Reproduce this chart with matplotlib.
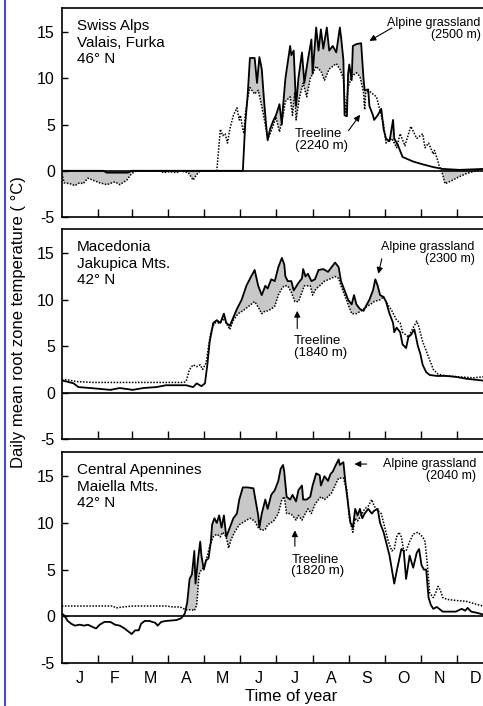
import numpy as np
import matplotlib
matplotlib.use('Agg')
import matplotlib.pyplot as plt
from matplotlib.lines import Line2D

plt.rcParams['font.family'] = ['Liberation Sans', 'DejaVu Sans']
plt.rcParams['axes.unicode_minus'] = False

month_starts = [0, 31, 59, 90, 120, 151, 181, 212, 243, 273, 304, 334, 365]
month_labels = ['J', 'F', 'M', 'A', 'M', 'J', 'J', 'A', 'S', 'O', 'N', 'D']

# [day of year, temperature]
alps_grass = np.array([
    [0, 0], [35, 0], [38, -0.2], [56, -0.2], [59, 0], [153, 0], [155, 5], [157, 8],
    [159, 12.2], [163, 12.2], [165, 9.5], [167, 12.3], [169, 11], [171, 7.5], [173, 4.5],
    [174, 3.3], [176, 4.5], [179, 5.5], [181, 6], [184, 7.2], [186, 5], [187, 7], [189, 10],
    [193, 13.5], [194, 12.5], [196, 13], [198, 7], [200, 10], [203, 12.8], [205, 9.5],
    [208, 12], [211, 14.2], [212, 10.5], [215, 15.5], [217, 13], [219, 15.3], [221, 13.2],
    [224, 15.5], [226, 13], [229, 13.5], [232, 12.8], [235, 15.5], [236, 14.5], [238, 12],
    [239, 6], [241, 5.9], [242, 10.5], [243, 11.5], [245, 9.8], [246, 13.5], [249, 13.7],
    [253, 13.8], [255, 10], [256, 8.7], [259, 8.8], [260, 7], [263, 6], [264, 5.5], [267, 6],
    [270, 6.7], [272, 4.5], [274, 3.5], [277, 3.2], [280, 5.5], [281, 3.5], [284, 2.8],
    [288, 1.5], [297, 1.0], [305, 0.7], [314, 0.4], [322, 0.2], [336, 0.1], [356, 0.2], [365, 0.2]])
alps_tree = np.array([
    [0, -0.3], [2, -1.3], [7, -1.4], [11, -1.6], [15, -1.3], [18, -1.4], [22, -0.8], [26, -1.0],
    [32, -1.3], [38, -1.5], [45, -1.2], [49, -1.5], [55, -1.0], [59, -0.3], [63, 0], [83, 0],
    [86, -0.2], [91, -0.1], [97, -0.2], [100, 0], [107, -0.2], [111, -1.0], [114, -0.4], [117, 0],
    [131, 0], [134, 4.5], [136, 3.8], [138, 4], [140, 3], [142, 4.5], [145, 6], [148, 6.8],
    [150, 5.5], [151, 6], [153, 4.5], [154, 4], [155, 6], [157, 7.8], [159, 9], [163, 8.3],
    [166, 8.7], [169, 7], [172, 5], [174, 3.5], [176, 4], [179, 5], [181, 5.8], [184, 4.2],
    [187, 6], [189, 7.5], [193, 8], [195, 6], [197, 8.5], [198, 5.5], [201, 8], [204, 9.5],
    [207, 8], [210, 10], [215, 11.3], [217, 11], [219, 10.8], [222, 9.8], [226, 11], [232, 11.6],
    [235, 11], [238, 10], [240, 6.2], [242, 9], [245, 10.2], [249, 10.6], [252, 10.2], [255, 8.5],
    [256, 6.6], [257, 8.5], [260, 8.6], [266, 8], [269, 6.5], [272, 5], [274, 3], [279, 3.5],
    [283, 2.5], [286, 4], [290, 2.7], [295, 4.8], [300, 3.5], [305, 4], [307, 2.5], [310, 3],
    [314, 1.8], [315, 2.2], [318, 1], [319, 0.5], [321, 0], [324, -1.4], [329, -1.1], [335, -0.7],
    [342, -0.3], [350, 0], [356, 0.2], [365, 0.2]])

mac_grass = np.array([
    [0, 1.3], [4, 1.2], [10, 1.0], [14, 0.6], [24, 0.5], [41, 0.3], [49, 0.5], [60, 0.3],
    [69, 0.5], [80, 0.6], [88, 0.8], [105, 0.8], [111, 0.6], [114, 1.0], [118, 0.7], [121, 1.0],
    [123, 3], [125, 5.5], [128, 7.5], [131, 7.8], [134, 7.5], [137, 8.5], [139, 7.5], [142, 7.2],
    [144, 7.8], [148, 9], [152, 10], [156, 11.5], [160, 12.5], [163, 13.2], [166, 11.5],
    [169, 10.5], [172, 11.5], [174, 11.2], [177, 12.2], [180, 12], [183, 13.5], [186, 14.5],
    [188, 13.8], [189, 12.5], [191, 12], [194, 12], [196, 11], [200, 11.8], [203, 12.3],
    [204, 13.3], [206, 12.5], [208, 12.8], [211, 12.0], [214, 12.2], [217, 13.2], [221, 13.3],
    [225, 13], [228, 13.5], [231, 14], [234, 13.5], [236, 12], [239, 11], [242, 10], [245, 9.5],
    [247, 10.5], [249, 9.5], [252, 9], [255, 8.8], [257, 9.3], [260, 10], [263, 11], [265, 12.2],
    [267, 11.5], [269, 10.5], [272, 10.3], [274, 9.8], [277, 8.5], [280, 7.5], [281, 6.5],
    [283, 7], [286, 6.5], [288, 5.2], [291, 4.8], [293, 6], [295, 6.2], [298, 6.8], [301, 5.0],
    [303, 4.2], [305, 3], [308, 2.2], [311, 1.9], [317, 1.8], [325, 1.8], [333, 1.7], [342, 1.5],
    [356, 1.3], [365, 1.3]])
mac_tree = np.array([
    [0, 1.4], [4, 1.4], [12, 1.2], [27, 1.1], [60, 1.1], [103, 1.1], [105, 1.2], [108, 2.5],
    [111, 3], [114, 2.8], [117, 3.0], [119, 2.5], [122, 3.2], [124, 5], [126, 6.5], [129, 7.5],
    [134, 7.5], [136, 8], [139, 7.5], [142, 6.8], [145, 7.8], [149, 8.5], [153, 8.8], [157, 9.2],
    [160, 9.5], [163, 9.8], [166, 9.2], [169, 8.5], [172, 8.8], [174, 8.8], [177, 9.0], [180, 9.3],
    [183, 10.5], [186, 11.2], [188, 11.5], [191, 11.5], [194, 10.8], [197, 9.8], [200, 9.8],
    [203, 10.8], [205, 11.5], [210, 11.5], [212, 10.5], [215, 11.2], [218, 11.5], [222, 12],
    [226, 12.2], [231, 12.5], [234, 12.3], [236, 11.5], [239, 10.5], [242, 9.5], [245, 8.5],
    [249, 8.5], [253, 8.8], [257, 9.2], [262, 9.6], [264, 9.8], [269, 10], [272, 10.3],
    [274, 9.8], [279, 8.8], [283, 7.8], [286, 7.5], [288, 6.5], [293, 6], [295, 6.5], [300, 7.7],
    [302, 7], [305, 5.5], [308, 4.5], [311, 3.5], [314, 2.5], [318, 2], [325, 1.8], [336, 1.7],
    [348, 1.6], [356, 1.7], [365, 1.7]])

apen_grass = np.array([
    [0, 0.3], [2, 0.1], [5, -0.5], [8, -0.8], [11, -1.0], [15, -0.9], [19, -1.0], [22, -0.9],
    [27, -1.2], [29, -1.3], [32, -0.9], [36, -0.6], [41, -0.6], [45, -0.9], [49, -1.0],
    [53, -1.3], [56, -1.6], [59, -1.9], [62, -1.5], [65, -1.5], [67, -0.8], [70, -0.5],
    [74, -0.5], [79, -0.7], [81, -1.0], [84, -0.6], [88, -0.5], [97, -0.4], [101, -0.2],
    [104, 0.3], [106, 1.5], [108, 4], [110, 4.5], [112, 7], [113, 3.5], [115, 6], [117, 8],
    [118, 6.5], [120, 5], [122, 6], [124, 6.2], [126, 8], [127, 9.8], [129, 10.5], [131, 10],
    [133, 10.8], [135, 9.5], [137, 10.8], [139, 8.5], [142, 9.5], [145, 10.5], [148, 11],
    [150, 12.5], [153, 13.8], [157, 13.8], [162, 13.7], [165, 11.5], [166, 10.8], [167, 9.5],
    [169, 11], [172, 12.5], [174, 11.5], [177, 13], [180, 13.5], [183, 14.5], [185, 15.8],
    [187, 16.2], [188, 15.5], [190, 12.8], [193, 12.5], [195, 13], [198, 12.3], [200, 13.5],
    [203, 14], [204, 12.5], [207, 12.5], [210, 12.8], [212, 14], [215, 15.3], [218, 15.1],
    [219, 14], [222, 15], [225, 14.5], [227, 15.2], [229, 15.5], [232, 16.3], [234, 16.8],
    [235, 16.2], [238, 16.5], [240, 14], [242, 12], [244, 10], [246, 9.5], [248, 11.5],
    [250, 10.8], [252, 11.5], [254, 10.5], [256, 11], [259, 11.5], [262, 11], [264, 11.3],
    [267, 11.5], [269, 10], [272, 9], [274, 8], [277, 6.5], [279, 5], [281, 3.5], [283, 4.8],
    [285, 6], [287, 7.2], [289, 7], [291, 4], [294, 6.5], [297, 5.2], [300, 6.8], [302, 7.2],
    [304, 5.5], [306, 5], [308, 5], [310, 2], [312, 1.2], [314, 0.8], [317, 1], [322, 0.5],
    [333, 0.5], [338, 0.8], [341, 0.6], [343, 0.9], [346, 0.5], [350, 0.4], [356, 0.2], [365, 0.2]])
apen_tree = np.array([
    [0, 1.1], [43, 1.1], [46, 0.9], [52, 1.0], [60, 1.1], [88, 1.1], [94, 1.0], [100, 1.0],
    [105, 0.7], [110, 0.7], [112, 0.6], [114, 1.2], [116, 4.5], [118, 5], [120, 5.2], [122, 6],
    [125, 7.5], [128, 8.5], [131, 8.8], [134, 8.5], [136, 9], [139, 8.5], [141, 7.3], [143, 8.2],
    [146, 9], [150, 9.8], [155, 10.2], [159, 10.5], [163, 10.2], [166, 9.5], [169, 9.2],
    [172, 9.3], [174, 9.8], [179, 10.2], [183, 11], [186, 12.5], [188, 12.8], [190, 11],
    [193, 11], [195, 10.8], [198, 10.3], [200, 10.8], [203, 10.3], [205, 10.8], [208, 11.5],
    [211, 11], [214, 12], [217, 12.5], [219, 12.8], [222, 12.5], [225, 12.8], [228, 13.2],
    [231, 14], [234, 14.8], [238, 14.8], [241, 13.5], [243, 10.5], [246, 9], [248, 10.5],
    [250, 10.2], [253, 10.8], [256, 11.5], [259, 11.8], [262, 12.5], [264, 11.8], [267, 11.3],
    [270, 11], [273, 9.5], [276, 8], [279, 7], [281, 7.2], [283, 8.5], [285, 9], [287, 8.5],
    [289, 7], [291, 7], [294, 8], [297, 8.8], [301, 9], [305, 8.5], [307, 8], [309, 5.5],
    [311, 2.5], [314, 2], [316, 2.5], [318, 3.2], [320, 2.8], [322, 2], [326, 1.8], [333, 1.7],
    [342, 1.6], [350, 1.3], [356, 1.1], [365, 1.1]])

sites = ['Swiss Alps\nValais, Furka\n46° N',
         'Macedonia\nJakupica Mts.\n42° N',
         'Central Apennines\nMaiella Mts.\n42° N']
grass_labels = ['Alpine grassland\n(2500 m)', 'Alpine grassland\n(2300 m)',
                'Alpine grassland\n(2040 m)']
tree_labels = ['Treeline\n(2240 m)', 'Treeline\n(1840 m)', 'Treeline\n(1820 m)']

# label/arrow placement: (text x, text y, arrow tail, arrow tip)
grass_pos = [(354, 16.6, (281, 15.6), (258, 13.9)),
             (349, 16.3, (271, 14.7), (267, 12.5)),
             (350, 16.9, (260, 16.3), (245, 16.3))]
tree_pos = [(197, 4.6, (241, 4.1), (253.5, 6.3)),
            (196, 6.2, (199, 6.6), (199, 9.1)),
            (194, 6.7, (197, 7.2), (197, 9.5))]

data = [(alps_grass, alps_tree), (mac_grass, mac_tree), (apen_grass, apen_tree)]
boxes = [(0.128, 0.6926, 0.894, 0.296),
         (0.128, 0.378, 0.894, 0.2975),
         (0.128, 0.0609, 0.894, 0.299)]

fig = plt.figure(figsize=(4.83, 7.06), dpi=100)

for i in range(3):
    ax = fig.add_axes(boxes[i])
    hi, lo = data[i]
    grid = np.union1d(hi[:, 0], lo[:, 0])
    s = np.interp(grid, hi[:, 0], hi[:, 1])
    d = np.interp(grid, lo[:, 0], lo[:, 1])
    ax.fill_between(grid, s, d, where=s > d, interpolate=True, color='#c8c8c8', lw=0)
    ax.plot(lo[:, 0], lo[:, 1], color='k', lw=1.1, linestyle=(0, (1, 1)))
    ax.plot(hi[:, 0], hi[:, 1], color='k', lw=1.3)
    ax.axhline(0, color='k', lw=1.2)

    ax.set_xlim(0, 365)
    ax.set_ylim(-5, 17.6)
    ax.set_yticks([-5, 0, 5, 10, 15])
    ax.tick_params(axis='y', direction='in', length=4, width=1, labelsize=11.5, pad=5)
    ax.set_xticks(month_starts[1:-1])
    ax.tick_params(axis='x', which='major', direction='in', length=6, width=1, labelbottom=False)
    if i == 2:
        mids = [(month_starts[k] + month_starts[k + 1]) / 2 for k in range(12)]
        ax.set_xticks(mids, minor=True)
        ax.set_xticklabels(month_labels, minor=True)
        ax.tick_params(axis='x', which='minor', length=0, labelsize=11.5, pad=6)
        ax.set_xlabel('Time of year', fontsize=12)
        ax.xaxis.set_label_coords(0.53, -0.125)
    for sp in ax.spines.values():
        sp.set_linewidth(1.2)

    ax.text(13, 16.4, sites[i], fontsize=11, va='top', ha='left', linespacing=1.22)
    gx, gy, gt, gh = grass_pos[i]
    ax.text(gx, gy, grass_labels[i], fontsize=9, va='top', ha='right', linespacing=0.95,
            multialignment='right')
    ax.annotate('', xy=gh, xytext=gt,
                arrowprops=dict(arrowstyle='-|>', color='k', lw=0.8, mutation_scale=9))
    tx, ty, tt, th = tree_pos[i]
    ax.text(tx, ty, tree_labels[i], fontsize=9.5, va='top', ha='left', linespacing=0.95)
    ax.annotate('', xy=th, xytext=tt,
                arrowprops=dict(arrowstyle='-|>', color='k', lw=0.8, mutation_scale=9))

fig.text(19 / 483, 1 - 322 / 706, 'Daily mean root zone temperature ( °C)',
         rotation=90, ha='center', va='center', fontsize=12)
fig.add_artist(Line2D([5 / 483, 5 / 483], [0, 1], color='#4a4ad0', lw=1.5))

fig.savefig('out.png', dpi=100)
